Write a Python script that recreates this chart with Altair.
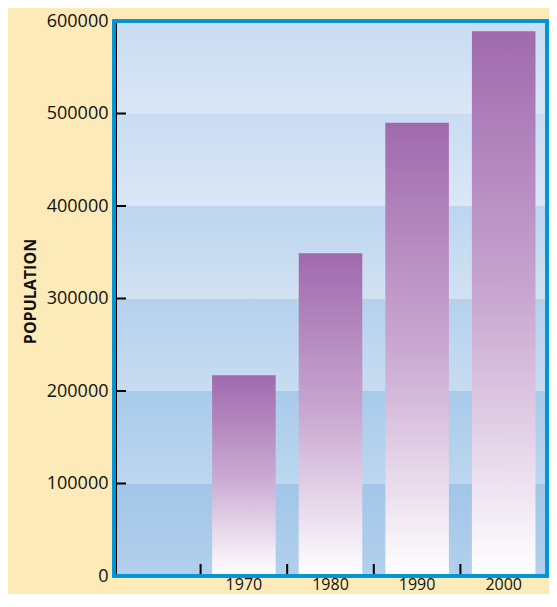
import altair as alt
import pandas as pd

# ---- data ----
categories = ["", "1970", "1980", "1990", "2000"]
years = ["1970", "1980", "1990", "2000"]
population = [217000, 349000, 490000, 589000]

band_lo = [0, 100000, 200000, 300000, 400000, 500000]
band_hi = [100000, 200000, 300000, 400000, 500000, 600000]
band_top_color = ["#a2c5e8", "#a8cbea", "#b5d1ee", "#bdd5ef", "#c9dcf2", "#c9dcf2"]
band_bottom_color = ["#b2d0ec", "#bcd6ef", "#c8dcf1", "#d1e2f3", "#dbe7f6", "#dae6f5"]

y_ticks = [100000, 200000, 300000, 400000, 500000, 600000]
y_label_values = [0, 100000, 200000, 300000, 400000, 500000, 600000]

W, H = 433, 555
FONT = "Open Sans"

xscale = alt.Scale(domain=categories, paddingInner=0, paddingOuter=0)
yscale = alt.Scale(domain=[0, 600000], nice=False, zero=True)

xaxis = alt.Axis(ticks=False, domain=False, grid=False, labelAngle=0, labelFont=FONT,
                 labelFontSize=16, labelColor="#111111", labelPadding=13,
                 labelBaseline="alphabetic", title=None)
yaxis = alt.Axis(values=y_label_values, ticks=False, domain=False, grid=False, format="d",
                 labelFont=FONT, labelFontSize=18, labelColor="#111111",
                 labelPadding=6, title="POPULATION", titleFont=FONT, titleFontSize=16,
                 titleFontWeight="bold", titleColor="#111111",
                 titleX=-84, titleY=270, titleAlign="center", titleBaseline="middle")

bars_df = pd.DataFrame({"year": years, "population": population})
cats_df = pd.DataFrame({"year": categories})
yt_df = pd.DataFrame({"v": y_ticks})

layers = []
for lo, hi, ct, cb in zip(band_lo, band_hi, band_top_color, band_bottom_color):
    grad = alt.LinearGradient(
        gradient="linear", x1=0, y1=0, x2=0, y2=1,
        stops=[alt.GradientStop(offset=0, color=ct), alt.GradientStop(offset=1, color=cb)],
    )
    layers.append(
        alt.Chart(pd.DataFrame({"lo": [lo], "hi": [hi]}))
        .mark_rect(fill=grad)
        .encode(
            x=alt.value(0), x2=alt.value(W),
            y=alt.Y("lo:Q", scale=yscale, axis=yaxis, title="POPULATION"),
            y2="hi:Q",
        )
    )

bar_grad = alt.LinearGradient(
    gradient="linear", x1=0, y1=0, x2=0, y2=1,
    stops=[
        alt.GradientStop(offset=0, color="#a06aad"),
        alt.GradientStop(offset=0.5, color="#c9a8d1"),
        alt.GradientStop(offset=1, color="#ffffff"),
    ],
)

bars = alt.Chart(bars_df).mark_bar(fill=bar_grad, width={"band": 0.734}).encode(
    x=alt.X("year:N", scale=xscale, sort=categories, axis=xaxis, title=None),
    y=alt.Y("population:Q", scale=yscale, axis=yaxis, title="POPULATION"),
)

xticks = alt.Chart(cats_df).mark_rule(color="black", strokeWidth=2).encode(
    x=alt.X("year:N", scale=xscale, sort=categories, bandPosition=1, axis=xaxis, title=None),
    y=alt.value(H - 12), y2=alt.value(H),
)

yticks = alt.Chart(yt_df).mark_rule(color="black", strokeWidth=2).encode(
    y=alt.Y("v:Q", scale=yscale, axis=yaxis, title="POPULATION"),
    x=alt.value(0), x2=alt.value(12),
)

left_line = alt.Chart(cats_df).mark_rule(color="black", strokeWidth=2).encode(
    x=alt.value(2), y=alt.value(0), y2=alt.value(H),
)

border = alt.Chart(cats_df).mark_rect(filled=False, stroke="#0096d6", strokeWidth=3).encode(
    x=alt.value(0), x2=alt.value(W), y=alt.value(0), y2=alt.value(H),
)

chart = (
    alt.layer(*layers, bars, xticks, yticks, left_line, border)
    .properties(
        width=W, height=H,
        autosize=alt.AutoSizeParams(type="none"),
        padding={"left": 106, "top": 13, "right": 2, "bottom": 18},
        background="#fcebb9",
    )
    .configure_view(stroke=None)
)

chart.save("out.html", embed_options={"renderer": "svg", "actions": False})
